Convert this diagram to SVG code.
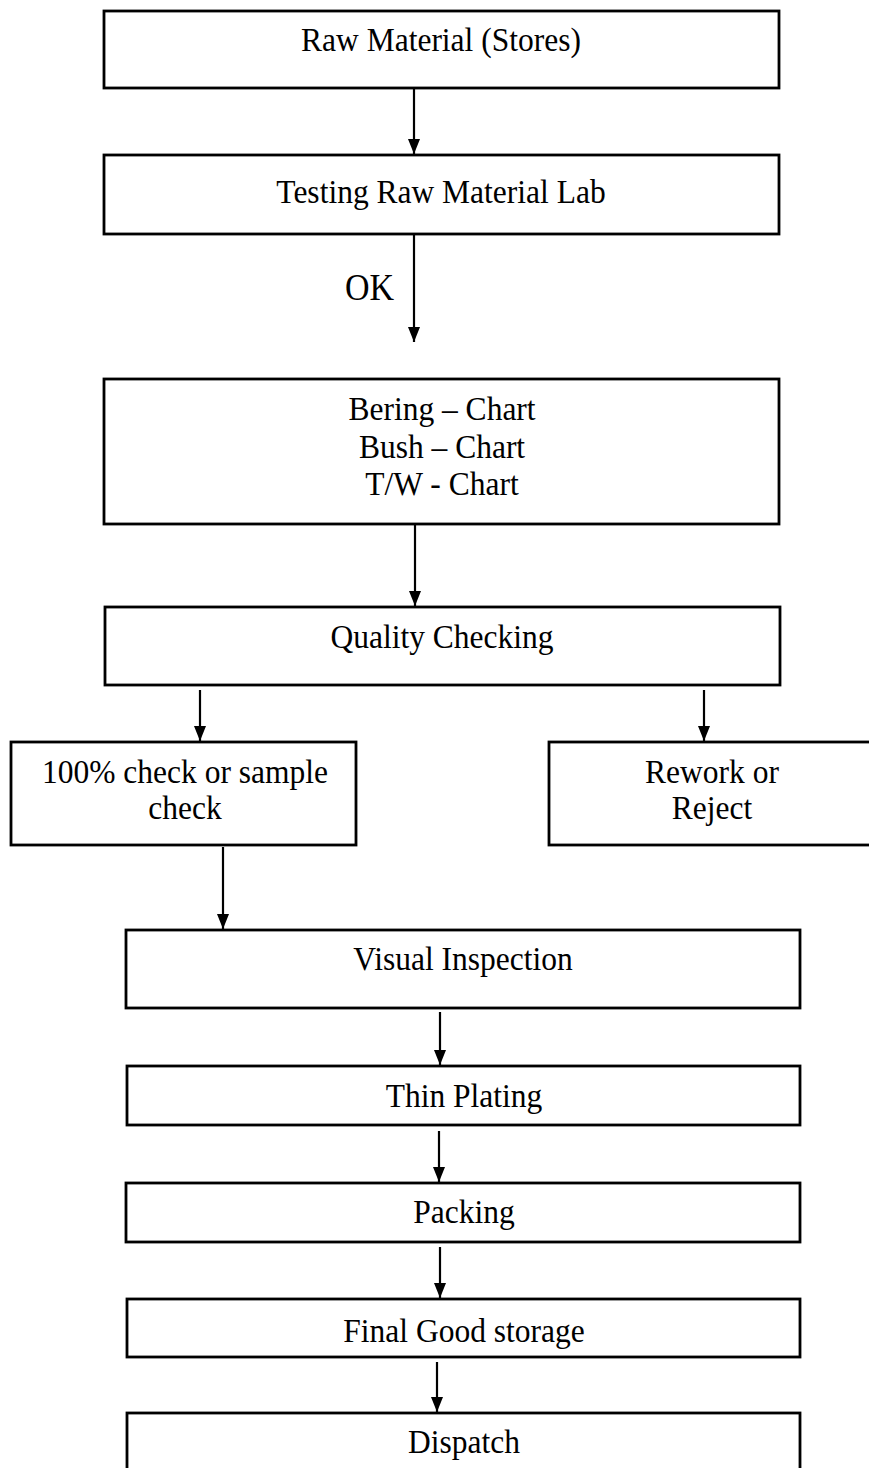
<svg xmlns="http://www.w3.org/2000/svg" width="869" height="1468" viewBox="0 0 869 1468">
<style>
.box{fill:#fff;stroke:#000;stroke-width:2.8}
.t{font-family:"Liberation Serif","Times New Roman",serif;font-size:31.5px;fill:#000;text-anchor:middle}
.ok{font-family:"Liberation Serif","Times New Roman",serif;font-size:34px;fill:#000}
.c{stroke:#000;stroke-width:2.2;fill:none;marker-end:url(#ah)}
</style>
<defs>
<marker id="ah" markerUnits="userSpaceOnUse" markerWidth="16" markerHeight="16" viewBox="0 0 16 16" refX="15" refY="8" orient="auto">
<path d="M0,2 L15,8 L0,14 Z" fill="#000"/>
</marker>
</defs>
<rect width="869" height="1468" fill="#fff"/>
<g id="connectors">
<line class="c" x1="414" y1="89" x2="414" y2="154"/>
<line class="c" x1="414" y1="235" x2="414" y2="342"/>
<line class="c" x1="415" y1="525" x2="415" y2="606"/>
<line class="c" x1="200" y1="690" x2="200" y2="741"/>
<line class="c" x1="704" y1="690" x2="704" y2="741"/>
<line class="c" x1="223" y1="847" x2="223" y2="929"/>
<line class="c" x1="440" y1="1012" x2="440" y2="1065"/>
<line class="c" x1="439" y1="1131" x2="439" y2="1182"/>
<line class="c" x1="440" y1="1247" x2="440" y2="1298"/>
<line class="c" x1="437" y1="1362" x2="437" y2="1412"/>
<text class="ok" transform="translate(345,300) scale(1,1.1)">OK</text>
</g>
<g id="n1"><rect class="box" x="104" y="11" width="675" height="77"/><text class="t" transform="translate(441,51) scale(1,1.1)">Raw Material (Stores)</text></g>
<g id="n2"><rect class="box" x="104" y="155" width="675" height="79"/><text class="t" transform="translate(441,203) scale(1,1.1)">Testing Raw Material Lab</text></g>
<g id="n3"><rect class="box" x="104" y="379" width="675" height="145"/>
<text class="t" transform="translate(442,420) scale(1,1.1)">Bering – Chart</text>
<text class="t" transform="translate(442,458) scale(1,1.1)">Bush – Chart</text>
<text class="t" transform="translate(442,495) scale(1,1.1)">T/W - Chart</text></g>
<g id="n4"><rect class="box" x="105" y="607" width="675" height="78"/><text class="t" transform="translate(442,648) scale(1,1.1)">Quality Checking</text></g>
<g id="n5"><rect class="box" x="11" y="742" width="345" height="103"/>
<text class="t" transform="translate(185,783) scale(1,1.1)">100% check or sample</text>
<text class="t" transform="translate(185,819) scale(1,1.1)">check</text></g>
<g id="n6"><rect class="box" x="549" y="742" width="330" height="103"/>
<text class="t" transform="translate(712,783) scale(1,1.1)">Rework or</text>
<text class="t" transform="translate(712,819) scale(1,1.1)">Reject</text></g>
<g id="n7"><rect class="box" x="126" y="930" width="674" height="78"/><text class="t" transform="translate(463,970) scale(1,1.1)">Visual Inspection</text></g>
<g id="n8"><rect class="box" x="127" y="1066" width="673" height="59"/><text class="t" transform="translate(464,1107) scale(1,1.1)">Thin Plating</text></g>
<g id="n9"><rect class="box" x="126" y="1183" width="674" height="59"/><text class="t" transform="translate(464,1223) scale(1,1.1)">Packing</text></g>
<g id="n10"><rect class="box" x="127" y="1299" width="673" height="58"/><text class="t" transform="translate(464,1342) scale(1,1.1)">Final Good storage</text></g>
<g id="n11"><rect class="box" x="127" y="1413" width="673" height="70"/><text class="t" transform="translate(464,1453) scale(1,1.1)">Dispatch</text></g>
</svg>
